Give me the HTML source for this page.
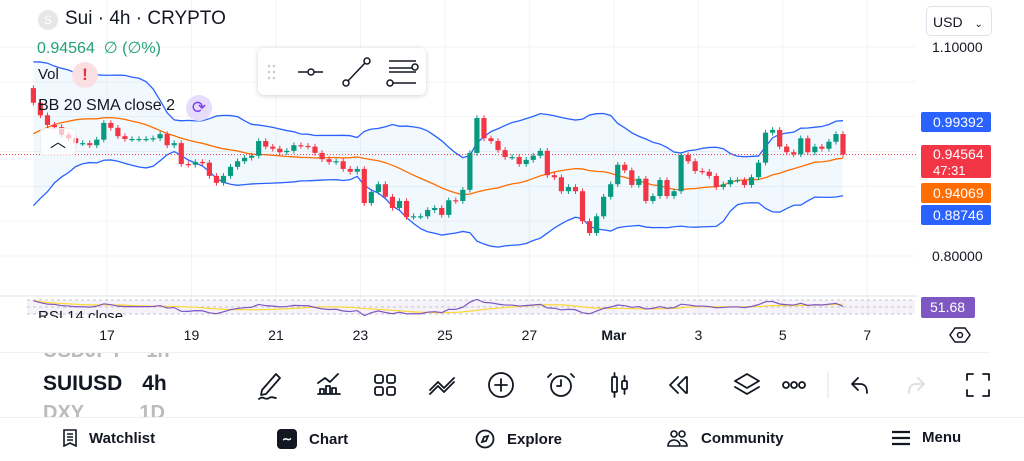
<!DOCTYPE html>
<html><head><meta charset="utf-8">
<style>
*{margin:0;padding:0;box-sizing:border-box}
body{width:1024px;height:461px;overflow:hidden;background:#fff;font-family:"Liberation Sans",Arial,sans-serif;color:#131722;position:relative}
.abs{position:absolute;white-space:nowrap}
.badge{position:absolute;left:921px;width:70px;color:#fff;font-size:14px;padding-left:12px;border-radius:2px}
.nav{position:absolute;top:429px;font-size:15px;font-weight:bold;display:flex;align-items:center;gap:12px}
</style></head><body>
<svg id="chart" width="1024" height="461" style="position:absolute;left:0;top:0">
<g id="grid"></g><g id="bands"></g><g id="candles"></g><g id="rsi"></g>
</svg>

<div class="abs" style="left:38px;top:10px;width:20px;height:20px;border-radius:50%;background:#e6e6e6;color:#fff;font-size:12px;text-align:center;line-height:20px">S</div>
<div class="abs" style="left:65px;top:8px;font-size:19px">Sui · 4h · CRYPTO</div>
<div class="abs" style="left:37px;top:38px;font-size:16px;color:#22a07a">0.94564 &nbsp;∅ (∅%)</div>
<div class="abs" style="left:38px;top:66px;font-size:15px">Vol</div>
<div class="abs" style="left:72px;top:62px;width:26px;height:26px;border-radius:50%;background:#fbe0e3;color:#e5303f;font-weight:bold;text-align:center;line-height:26px;font-size:17px">!</div>
<div class="abs" style="left:38px;top:97px;font-size:16px">BB 20 SMA close 2</div>
<div class="abs" style="left:186px;top:95px;width:26px;height:26px;border-radius:50%;background:#e6dcfb;color:#7a3cf0;text-align:center;line-height:26px;font-size:17px">⟳</div>
<div class="abs" style="left:40px;top:128px;width:36px;height:28px;border:1px solid #eee;border-radius:4px;background:rgba(255,255,255,.7);text-align:center;font-size:16px;line-height:28px">︿</div>

<div class="abs" style="left:926px;top:6px;width:66px;height:30px;border:1px solid #e0e3eb;border-radius:5px;font-size:14px;padding:7px 0 0 6px">USD <span style="font-size:10px;margin-left:8px">⌄</span></div>

<div class="abs" style="left:258px;top:48px;width:168px;height:47px;background:#fff;border-radius:6px;box-shadow:0 1px 5px rgba(0,0,0,.18)">
<svg width="168" height="47"><g fill="#ccc"><circle cx="11" cy="18" r="1.3"/><circle cx="16" cy="18" r="1.3"/><circle cx="11" cy="24" r="1.3"/><circle cx="16" cy="24" r="1.3"/><circle cx="11" cy="30" r="1.3"/><circle cx="16" cy="30" r="1.3"/></g>
<g stroke="#131722" stroke-width="1.5" fill="#fff"><line x1="40" y1="24" x2="65" y2="24"/><circle cx="53" cy="24" r="3"/><line x1="89" y1="34" x2="107" y2="15"/><circle cx="88" cy="35" r="3"/><circle cx="109" cy="13" r="3"/><line x1="131" y1="13" x2="158" y2="13"/><line x1="131" y1="24" x2="158" y2="24"/><line x1="134" y1="35" x2="158" y2="35"/><line x1="131" y1="20" x2="155" y2="20"/><circle cx="157" cy="19" r="3"/><circle cx="132" cy="35" r="3"/></g></svg></div>

<div class="abs" style="left:932px;top:39px;font-size:14px">1.10000</div>
<div class="abs" style="left:932px;top:248px;font-size:14px">0.80000</div>
<div class="badge" style="top:112px;height:20px;line-height:20px;background:#2962ff">0.99392</div>
<div class="badge" style="top:145px;height:33px;background:#f23645;line-height:16px;padding-top:1px">0.94564<br><span style="font-size:13px">47:31</span></div>
<div class="badge" style="top:183px;height:20px;line-height:20px;background:#ff6d00">0.94069</div>
<div class="badge" style="top:205px;height:20px;line-height:20px;background:#2962ff">0.88746</div>
<div class="badge" style="top:297px;height:21px;width:54px;line-height:21px;background:#7e57c2;padding-left:9px">51.68</div>
<div class="abs" style="left:38px;top:307px;font-size:15px;height:11px;overflow:hidden;line-height:20px">RSI 14 close</div>

<div id="xaxis"></div>
<div class="abs" style="left:949px;top:324px"><svg width="22" height="22"><polygon points="6,4 16,4 21,11 16,18 6,18 1,11" fill="none" stroke="#131722" stroke-width="1.5"/><circle cx="11" cy="11" r="2.5" fill="none" stroke="#131722" stroke-width="1.5"/></svg></div>
<div class="abs" style="left:0;top:352px;width:990px;height:1px;background:#eef0f3"></div>

<div class="abs" style="left:43px;top:353px;width:140px;height:64px;overflow:hidden">
<div style="position:absolute;top:-13px;font-size:20px;color:#bbb;font-weight:bold">USDJPY <span style="margin-left:18px">1h</span></div>
<div style="position:absolute;top:19px;font-size:21px;font-weight:bold">SUIUSD <span style="margin-left:14px">4h</span></div>
<div style="position:absolute;top:49px;font-size:20px;color:#bbb;font-weight:bold">DXY <span style="margin-left:50px">1D</span></div></div>

<svg class="abs" style="left:250px;top:368px" width="750" height="32" fill="none" stroke="#131722" stroke-width="1.8" stroke-linecap="round" stroke-linejoin="round">
<g><path d="M12 22 L26 6 L30 10 L16 26 L11 27 Z"/><path d="M9 31 c4 -4 6 2 10 -1 c3 -2 5 0 7 0"/></g>
<g><path d="M68 26h22M70 26v-5h4v5M76 26v-8h4v8M82 26v-6h4v6M68 15l7-5 5 4 8-8"/></g>
<g><rect x="125" y="7" width="8" height="8" rx="2"/><rect x="137" y="7" width="8" height="8" rx="2"/><rect x="125" y="19" width="8" height="8" rx="2"/><rect x="137" y="19" width="8" height="8" rx="2"/></g>
<g><path d="M180 22l8-8 6 6 10-10M180 26l8-8 6 6 10-10"/></g>
<g><circle cx="251" cy="17" r="12"/><path d="M251 11v12M245 17h12"/></g>
<g><circle cx="311" cy="18" r="10"/><path d="M311 12v6h-4M301 6l-3 3M321 6l3 3"/></g>
<g><rect x="362" y="9" width="5" height="15" rx="1"/><path d="M364.5 5v4M364.5 24v5"/><rect x="372" y="13" width="5" height="8" rx="1"/><path d="M374.5 8v5M374.5 21v5"/></g>
<g><path d="M428 9l-8 8 8 8M436 9l-8 8 8 8M437 9v16"/></g>
<g><path d="M485 13l12-7 12 7-12 7z"/><path d="M485 19l12 7 12-7"/></g>
<g><circle cx="536" cy="17" r="3"/><circle cx="544" cy="17" r="3"/><circle cx="552" cy="17" r="3"/></g>
<line x1="578" y1="4" x2="578" y2="30" stroke="#eee"/>
<g><path d="M608 10l-6 6 6 6M602 16h8c5 0 7 3 7 9"/></g>
<g stroke="#ddd"><path d="M668 10l6 6-6 6M674 16h-8c-5 0-7 3-7 9"/></g>
<g><path d="M717 12V6h6M733 6h6v6M739 22v6h-6M723 28h-6v-6"/></g>
</svg>
<div class="abs" style="left:0;top:417px;width:1024px;height:1px;background:#eef0f3"></div>

<div class="nav" style="left:63px"><svg width="14" height="18" fill="none" stroke="#131722" stroke-width="1.6"><path d="M1 1h12v16l-6-3-6 3z M4 5h6M4 8h6M4 11h6"/></svg>Watchlist</div>
<div class="nav" style="left:277px"><span style="width:20px;height:20px;background:#131722;border-radius:4px;color:#fff;font-size:12px;text-align:center;line-height:20px">∼</span>Chart</div>
<div class="nav" style="left:475px"><svg width="20" height="20" fill="none" stroke="#131722" stroke-width="1.8"><circle cx="10" cy="10" r="8.5"/><path d="M13 7l-2 5-4 1 2-5z"/></svg>Explore</div>
<div class="nav" style="left:667px"><svg width="22" height="18" fill="none" stroke="#131722" stroke-width="1.6"><circle cx="7" cy="5" r="3"/><circle cx="15" cy="5" r="3"/><path d="M1 17c0-4 3-6 6-6s6 2 6 6zM13 11c3 0 7 2 7 6h-6"/></svg>Community</div>
<div class="nav" style="left:892px"><svg width="18" height="16" stroke="#131722" stroke-width="2.2"><path d="M0 2h18M0 8h18M0 14h18"/></svg>Menu</div>

<script>
// ---- data ----
const firstOpen = 1.041;
const priorCloses = [0.90,0.91,0.90,0.92,0.93,0.92,0.94,0.95,0.97,0.96,0.98,0.99,1.00,1.02,1.01,1.03,1.05,1.06,1.05];
const closes = [1.020,1.002,0.988,0.985,0.974,0.969,0.962,0.962,0.959,0.967,
0.991,0.984,0.972,0.968,0.968,0.968,0.968,0.969,0.975,0.959,
0.962,0.932,0.931,0.935,0.934,0.915,0.905,0.915,0.928,0.936,
0.941,0.944,0.965,0.957,0.954,0.949,0.951,0.959,0.958,0.957,
0.948,0.939,0.935,0.936,0.925,0.921,0.925,0.876,0.892,0.903,
0.885,0.869,0.879,0.856,0.857,0.857,0.866,0.869,0.859,0.880,
0.879,0.895,0.948,0.998,0.969,0.965,0.952,0.942,0.942,0.932,
0.938,0.944,0.951,0.916,0.913,0.893,0.899,0.893,0.850,0.833,
0.857,0.885,0.903,0.931,0.923,0.902,0.911,0.879,0.886,0.909,
0.886,0.893,0.945,0.936,0.922,0.921,0.915,0.899,0.903,0.909,
0.909,0.902,0.913,0.934,0.977,0.981,0.957,0.949,0.946,0.969,
0.949,0.957,0.954,0.964,0.975,0.9456];
const wickUp = [0.004];
const wickDown = [0.004];
const dayLabels = ['17','19','21','23','25','27','Mar','3','5','7'];
const dayCandleIndex = [13,25,37,49,61,73,85,97,109,121];
const priceTicks = [1.10,1.05,1.00,0.95,0.90,0.85,0.80];

// ---- axes ----
const X0 = 33.4, STEP = 7.04;
const x = i => X0 + i*STEP;
const y = p => 47 + (1.10 - p)*696.7;
const NS = 'http://www.w3.org/2000/svg';
function mk(tag, attrs, parent){const e=document.createElementNS(NS,tag);for(const k in attrs)e.setAttribute(k,attrs[k]);parent.appendChild(e);return e;}

const grid = document.getElementById('grid');
priceTicks.forEach(p=>{const l=mk('line',{x1:0,x2:915,y1:y(p),y2:y(p),stroke:'#f2f3f5'},grid);

});
dayCandleIndex.forEach(i=>{const l=mk('line',{x1:x(i-13)+ (107-x(0)),x2:x(i-13)+(107-x(0)),y1:0,y2:318,stroke:'#f2f3f5'},grid);

});

// ---- Bollinger ----
const all = priorCloses.concat(closes);
const mid=[],up=[],lo=[];
for(let i=0;i<closes.length;i++){
  const w = all.slice(i, i+20);
  const m = w.reduce((a,b)=>a+b,0)/20;
  const sd = Math.sqrt(w.reduce((a,b)=>a+(b-m)*(b-m),0)/20);
  mid.push(m); up.push(m+2*sd); lo.push(m-2*sd);
}
const bands = document.getElementById('bands');
let fillPts = closes.map((_,i)=>x(i)+','+y(up[i])).concat(closes.map((_,i)=>x(i)+','+y(lo[i])).reverse());
const fill = mk('polygon',{points:fillPts.join(' '),fill:'rgba(33,150,243,0.06)'},bands);


[[up,'#2962ff','bollinger-upper'],[lo,'#2962ff','bollinger-lower'],[mid,'#ff6d00','bollinger-basis']].forEach(([arr,c,n])=>{
  const pl = mk('polyline',{points:arr.map((v,i)=>x(i)+','+y(v)).join(' '),fill:'none',stroke:c,'stroke-width':1.3},bands);
  
  
});
const last = closes[closes.length-1];
const pl = mk('line',{x1:0,x2:918,y1:y(last),y2:y(last),stroke:'#f23645','stroke-dasharray':'1 2','stroke-width':1},bands);



// ---- candles ----
const cg = document.getElementById('candles');
closes.forEach((c,i)=>{
  const o = i===0 ? firstOpen : closes[i-1];
  const col = c>=o ? '#089981' : '#f23645';
  const hi = Math.max(o,c)+wickUp[0], lw = Math.min(o,c)-wickDown[0];
  const g = mk('g',{},cg);
  
  
  mk('line',{x1:x(i),x2:x(i),y1:y(hi),y2:y(lw),stroke:col,'stroke-width':1},g);
  const top=y(Math.max(o,c)), h=Math.max(1.2,y(Math.min(o,c))-top);
  mk('rect',{x:x(i)-2.6,y:top,width:5.2,height:h,fill:col},g);
});

// ---- RSI ----
const rsiVals=[];
let ag=0, al=0;
for(let i=1;i<all.length;i++){
  const d=all[i]-all[i-1], gn=Math.max(d,0), ls=Math.max(-d,0);
  if(i<=14){ag+=gn/14;al+=ls/14;} else {ag=(ag*13+gn)/14;al=(al*13+ls)/14;}
  if(i>=priorCloses.length) rsiVals.push(al===0?100:100-100/(1+ag/al));
}
const ry = r => 300 + (70-r)*(14/40);
const rg = document.getElementById('rsi');
const bg = mk('rect',{x:27,y:ry(70),width:888,height:ry(30)-ry(70),fill:'rgba(126,87,194,0.08)'},rg);


[70,50,30].forEach(r=>{const l=mk('line',{x1:27,x2:915,y1:ry(r),y2:ry(r),stroke:'#b2b5be','stroke-dasharray':'3 3','stroke-width':0.7},rg);

});
const tl=mk('line',{x1:0,x2:918,y1:296,y2:296,stroke:'#e0e3eb'},rg);


const rsiMa = rsiVals.map((_,i)=>{const w=rsiVals.slice(Math.max(0,i-13),i+1);return w.reduce((a,b)=>a+b,0)/w.length;});
const maL = mk('polyline',{points:rsiMa.map((v,i)=>x(i)+','+ry(v)).join(' '),fill:'none',stroke:'#fdd835','stroke-width':1.2},rg);


const rL = mk('polyline',{points:rsiVals.map((v,i)=>x(i)+','+ry(v)).join(' '),fill:'none',stroke:'#7e57c2','stroke-width':1.2},rg);



// ---- x axis labels ----
const xa = document.getElementById('xaxis');
dayLabels.forEach((t,k)=>{
  const d=document.createElement('div');
  d.className='abs';
  
  
  d.textContent=t;
  const cx = x(dayCandleIndex[k]-13) + (107-x(0));
  d.style.cssText='left:'+(cx-20)+'px;width:40px;text-align:center;top:327px;font-size:14px;'+(t==='Mar'?'font-weight:bold':'');
  xa.appendChild(d);
});
</script>
</body></html>
